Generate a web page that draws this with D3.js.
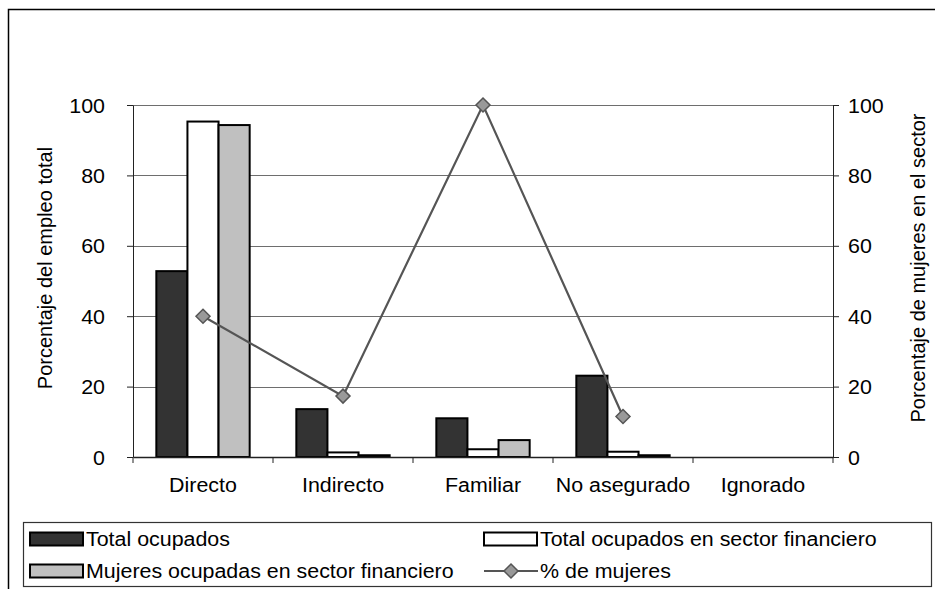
<!DOCTYPE html>
<html>
<head>
<meta charset="utf-8">
<script src="https://cdn.jsdelivr.net/npm/d3@7"></script>
<style>
  body { margin: 0; background: #fff; }
  svg { display: block; font-family: "Liberation Sans", Arial, sans-serif; }
  .axis text { font-size: 20px; fill: #000; }
  .axis path, .axis line { stroke: #222; }
</style>
</head>
<body>
<svg id="chart" width="935" height="589"></svg>
<script>
// Chart data
const categories = ['Directo', 'Indirecto', 'Familiar', 'No asegurado', 'Ignorado'];
const seriesNames = ['Total ocupados', 'Total ocupados en sector financiero', 'Mujeres ocupadas en sector financiero'];
const totalOcupados = [52.8, 13.6, 11.0, 23.1, 0];
const totalFinanciero = [95.3, 1.3, 2.2, 1.5, 0];
const mujeresFinanciero = [94.3, 0.5, 4.8, 0.5, 0];
const pctMujeres = [40, 17.3, 100, 11.5, null];
const lineName = '% de mujeres';
const yTicks = [0, 20, 40, 60, 80, 100];

const barColors = ['#333333', '#ffffff', '#c0c0c0'];
const barValues = [totalOcupados, totalFinanciero, mujeresFinanciero];

// the reference text is a little wider than the font renders here
const TEXT_STRETCH = 1.07;

const svg = d3.select('#chart');

// Outer chart border (right and bottom run off the picture)
svg.append('path')
    .attr('d', 'M8.5,940 L8.5,9.5 L940,9.5')
    .attr('fill', 'none')
    .attr('stroke', '#000')
    .attr('stroke-width', 1.5);

const plot = { left: 133, right: 833, top: 105, bottom: 457 };

const x = d3.scaleBand()
    .domain(categories)
    .range([plot.left, plot.right]);

// Excel gap width 150%: group takes 3 / 4.5 of the band
const groupW = x.bandwidth() * 3 / 4.5;
const x1 = d3.scaleBand()
    .domain(d3.range(seriesNames.length))
    .range([(x.bandwidth() - groupW) / 2, (x.bandwidth() + groupW) / 2]);

const y = d3.scaleLinear().domain([0, 100]).range([plot.bottom, plot.top]);
const y2 = d3.scaleLinear().domain([0, 100]).range([plot.bottom, plot.top]);

// Gridlines
svg.append('g')
    .selectAll('line')
    .data(yTicks.filter(d => d > 0))
    .join('line')
    .attr('x1', plot.left)
    .attr('x2', plot.right)
    .attr('y1', d => Math.round(y(d)) + 0.5)
    .attr('y2', d => Math.round(y(d)) + 0.5)
    .attr('stroke', '#6e6e6e')
    .attr('stroke-width', 1.2);

// Bars
const barRows = [];
categories.forEach((c, i) => {
    barValues.forEach((vals, s) => {
        barRows.push({ cat: c, s: s, v: vals[i] });
    });
});

svg.append('g')
    .selectAll('rect')
    .data(barRows.filter(d => d.v > 0))
    .join('rect')
    .attr('x', d => x(d.cat) + x1(d.s))
    .attr('y', d => y(d.v))
    .attr('width', x1.bandwidth())
    .attr('height', d => y(0) - y(d.v))
    .attr('fill', d => barColors[d.s])
    .attr('stroke', '#000')
    .attr('stroke-width', 2);

// Left axis
svg.append('g')
    .attr('class', 'axis')
    .attr('transform', `translate(${plot.left},0)`)
    .call(d3.axisLeft(y).tickValues(yTicks).tickSize(6).tickPadding(22).tickSizeOuter(0))
    .call(g => g.selectAll('text').attr('dy', '0.35em'));

// Right axis
svg.append('g')
    .attr('class', 'axis')
    .attr('transform', `translate(${plot.right},0)`)
    .call(d3.axisRight(y2).tickValues(yTicks).tickSize(6).tickPadding(9).tickSizeOuter(0))
    .call(g => g.selectAll('text').attr('dy', '0.35em'));

// Category axis: labels at band centres, ticks at band edges
const xAxis = svg.append('g')
    .attr('class', 'axis')
    .attr('transform', `translate(0,${plot.bottom})`)
    .call(d3.axisBottom(x).tickSize(0).tickPadding(21).tickSizeOuter(0));
xAxis.select('.domain').attr('stroke', '#000').attr('stroke-width', 1.5);

const edges = categories.map(c => x(c)).concat([plot.right]);
xAxis.selectAll('line.edge')
    .data(edges)
    .join('line')
    .attr('class', 'edge')
    .attr('x1', d => d)
    .attr('x2', d => d)
    .attr('y1', 0)
    .attr('y2', 6)
    .attr('stroke', '#222');

// Line series on the secondary axis
const lineGen = d3.line()
    .defined(d => d != null)
    .x((d, i) => x(categories[i]) + x.bandwidth() / 2)
    .y(d => y2(d));

svg.append('path')
    .datum(pctMujeres)
    .attr('d', lineGen)
    .attr('fill', 'none')
    .attr('stroke', '#555')
    .attr('stroke-width', 2.2);

const diamond = 'M0,-7L7,0L0,7L-7,0Z';
svg.append('g')
    .selectAll('path')
    .data(pctMujeres.map((v, i) => ({ v, i })).filter(d => d.v != null))
    .join('path')
    .attr('transform', d => `translate(${x(categories[d.i]) + x.bandwidth() / 2},${y2(d.v)})`)
    .attr('d', diamond)
    .attr('fill', '#999')
    .attr('stroke', '#555')
    .attr('stroke-width', 1.5);

// Axis titles
svg.append('text')
    .attr('transform', 'translate(52,268) rotate(-90)')
    .attr('text-anchor', 'middle')
    .style('font-size', '20px')
    .text('Porcentaje del empleo total');

svg.append('text')
    .attr('transform', 'translate(925,268) rotate(-90)')
    .attr('text-anchor', 'middle')
    .style('font-size', '20px')
    .text('Porcentaje de mujeres en el sector');

// Legend
const legend = svg.append('g');
legend.append('rect')
    .attr('x', 23.5)
    .attr('y', 522.5)
    .attr('width', 908)
    .attr('height', 64)
    .attr('fill', '#fff')
    .attr('stroke', '#333')
    .attr('stroke-width', 1.2);

const legendItems = [
    { name: seriesNames[0], type: 'bar', color: barColors[0], x: 30, y: 539 },
    { name: seriesNames[1], type: 'bar', color: barColors[1], x: 484, y: 539 },
    { name: seriesNames[2], type: 'bar', color: barColors[2], x: 30, y: 571 },
    { name: lineName, type: 'line', x: 484, y: 571 }
];

const li = legend.selectAll('g.item')
    .data(legendItems)
    .join('g')
    .attr('class', 'item')
    .attr('transform', d => `translate(${d.x},${d.y})`);

li.filter(d => d.type === 'bar')
    .append('rect')
    .attr('x', 0)
    .attr('y', -6.5)
    .attr('width', 53)
    .attr('height', 13)
    .attr('fill', d => d.color)
    .attr('stroke', '#000')
    .attr('stroke-width', 2);

const lineItem = li.filter(d => d.type === 'line');
lineItem.append('line')
    .attr('x1', 0)
    .attr('x2', 54)
    .attr('y1', 0)
    .attr('y2', 0)
    .attr('stroke', '#555')
    .attr('stroke-width', 2.2);
lineItem.append('path')
    .attr('transform', 'translate(27,0)')
    .attr('d', diamond)
    .attr('fill', '#999')
    .attr('stroke', '#555')
    .attr('stroke-width', 1.5);

li.append('text')
    .attr('class', 'htext')
    .attr('x', 56)
    .attr('dy', '0.35em')
    .style('font-size', '20px')
    .text(d => d.name);

// widen the horizontal texts to the reference's proportions
svg.selectAll('.axis text, .htext').each(function() {
    const w = this.getComputedTextLength();
    d3.select(this)
        .attr('textLength', w * TEXT_STRETCH)
        .attr('lengthAdjust', 'spacingAndGlyphs');
});
</script>
</body>
</html>
